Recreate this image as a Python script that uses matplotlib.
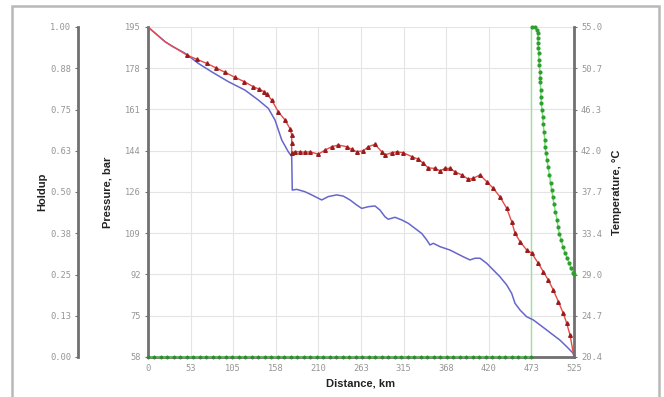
import matplotlib
matplotlib.use("Agg")
import matplotlib.pyplot as plt
from matplotlib.patches import Rectangle

# ---- pressure profile, case 1 (blue line) ----
blue_km = [0, 21.0, 29.2, 45.6, 62.0, 78.5, 99.0, 119.5, 135.9, 148.3, 156.5, 164.8,
           172.9, 177.1, 177.8, 183.3, 193.5, 201.7, 209.9, 214.1, 222.2, 232.6, 240.7,
           248.9, 257.2, 263.4, 271.5, 279.7, 285.9, 292.1, 296.1, 304.4, 312.7, 320.8,
           329.0, 337.3, 343.5, 347.5, 351.6, 359.9, 372.2, 380.4, 388.6, 396.8, 403.0,
           409.2, 417.4, 425.6, 433.8, 442.1, 448.2, 452.3, 458.5, 466.7, 474.8, 483.1,
           491.4, 499.5, 507.7, 516.0, 524.1, 525.0]
blue_bar = [195.0, 188.9, 187.1, 184.1, 179.9, 176.4, 172.3, 168.8, 164.7, 161.2, 156.4,
            148.1, 143.2, 141.2, 127.3, 127.6, 126.6, 125.3, 123.9, 123.2, 124.6, 125.3,
            124.8, 123.2, 121.1, 119.7, 120.4, 120.7, 119.0, 116.2, 115.2, 116.0, 114.9,
            113.5, 111.4, 109.3, 106.6, 104.5, 105.2, 103.8, 102.4, 101.0, 99.6, 98.3,
            99.0, 99.0, 96.9, 94.1, 91.3, 87.9, 84.4, 80.3, 77.5, 74.7, 73.4, 71.3, 69.2,
            67.1, 65.0, 62.3, 59.5, 58.0]

# ---- pressure profile, case 2 (red line with triangles) ----
red_km = [0, 21.0, 47.7, 60.0, 72.3, 84.0, 94.9, 107.2, 118.7, 129.8, 137.0, 143.3,
          146.3, 152.4, 160.6, 168.8, 175.0, 177.1, 177.1, 177.1, 181.2, 187.3, 193.5,
          199.6, 209.9, 218.1, 226.4, 234.5, 244.9, 251.0, 257.2, 265.3, 271.5, 279.7,
          288.0, 292.1, 300.3, 306.5, 314.6, 325.0, 333.1, 339.3, 345.4, 353.7, 359.9,
          366.0, 372.2, 378.3, 386.6, 394.7, 400.9, 409.2, 417.4, 425.6, 433.8, 442.1,
          448.2, 452.3, 458.5, 466.7, 472.9, 481.0, 487.2, 493.3, 499.5, 505.7, 511.8,
          516.0, 520.1, 525.0]
red_bar = [195.0, 188.9, 183.4, 181.6, 179.9, 178.0, 176.2, 174.1, 172.3, 170.2, 169.2,
           168.1, 167.2, 164.7, 159.8, 156.4, 152.8, 150.2, 146.7, 142.8, 143.2, 143.2,
           143.0, 143.2, 142.2, 143.9, 145.3, 146.0, 145.3, 144.2, 143.2, 143.6, 145.3,
           146.3, 143.2, 141.9, 142.8, 143.2, 142.8, 141.2, 140.1, 138.4, 136.5, 136.3,
           135.3, 136.3, 136.3, 134.9, 133.6, 131.8, 132.2, 133.6, 130.8, 128.0, 124.5,
           119.7, 114.2, 109.4, 105.9, 102.4, 101.1, 96.9, 93.4, 90.0, 85.8, 81.0, 76.1,
           72.0, 67.1, 58.0]

# ---- temperature (green, right axis) ----
temp_km = [473.2, 476.9, 479.4, 480.3, 480.6, 480.6, 481.2, 481.5, 481.9, 482.2, 483.1,
           483.1, 483.5, 484.0, 484.3, 484.7, 485.6, 486.4, 487.2, 488.0, 488.9, 489.3,
           490.5, 491.7, 493.0, 494.8, 496.1, 497.5, 498.8, 500.3, 502.2, 504.0, 505.3,
           507.1, 509.0, 511.4, 513.9, 516.4, 518.8, 521.3, 523.8, 525.0]
temp_c = [55.0, 55.0, 54.7, 54.4, 53.8, 53.3, 52.8, 52.3, 51.5, 51.0, 50.3, 49.7, 49.2,
          48.4, 47.7, 47.0, 46.3, 45.6, 44.8, 44.0, 43.2, 42.4, 41.8, 41.1, 40.3, 39.5,
          38.6, 37.9, 37.2, 36.4, 35.6, 34.8, 34.0, 33.3, 32.7, 31.9, 31.3, 30.8, 30.3,
          29.7, 29.2, 29.1]

# ---- liquid holdup (green, far-left axis) ----
holdup_km = [0, 8, 16, 24, 32, 40, 48, 56, 64, 72, 80, 88, 96, 104, 112, 120, 128, 136,
             144, 152, 160, 168, 176, 184, 192, 200, 208, 216, 224, 232, 240, 248, 256,
             264, 272, 280, 288, 296, 304, 312, 320, 328, 336, 344, 352, 360, 368, 376,
             384, 392, 400, 408, 416, 424, 432, 440, 448, 456, 464, 472.5]
holdup = [0.0, 0.0, 0.0, 0.0, 0.0, 0.0, 0.0, 0.0, 0.0, 0.0, 0.0, 0.0, 0.0, 0.0, 0.0,
          0.0, 0.0, 0.0, 0.0, 0.0, 0.0, 0.0, 0.0, 0.0, 0.0, 0.0, 0.0, 0.0, 0.0, 0.0,
          0.0, 0.0, 0.0, 0.0, 0.0, 0.0, 0.0, 0.0, 0.0, 0.0, 0.0, 0.0, 0.0, 0.0, 0.0,
          0.0, 0.0, 0.0, 0.0, 0.0, 0.0, 0.0, 0.0, 0.0, 0.0, 0.0, 0.0, 0.0, 0.0, 0.0]

# ---- axes ticks ----
x_ticks = [0, 52.5, 105, 157.5, 210, 262.5, 315, 367.5, 420, 472.5, 525]
x_labels = ["0", "53", "105", "158", "210", "263", "315", "368", "420", "473", "525"]
p_ticks = [58, 75.125, 92.25, 109.375, 126.5, 143.625, 160.75, 177.875, 195]
p_labels = ["58", "75", "92", "109", "126", "144", "161", "178", "195"]
t_ticks = [20.4, 24.725, 29.05, 33.375, 37.7, 42.025, 46.35, 50.675, 55.0]
t_labels = ["20.4", "24.7", "29.0", "33.4", "37.7", "42.0", "46.3", "50.7", "55.0"]
h_ticks = [0, 0.125, 0.25, 0.375, 0.5, 0.625, 0.75, 0.875, 1.0]
h_labels = ["0.00", "0.13", "0.25", "0.38", "0.50", "0.63", "0.75", "0.88", "1.00"]
marker_km = 472.5

W, H = 664, 397
fig = plt.figure(figsize=(W / 100, H / 100), dpi=100)
fig.patch.set_facecolor("white")

# outer frame
fig.patches.append(Rectangle((12 / W, -0.02), (659 - 12) / W, (H - 6) / H + 0.02,
                             transform=fig.transFigure, fill=False,
                             edgecolor="#b8b8b8", linewidth=1.8, zorder=0))

left, right, top, bottom = 148 / W, 574 / W, 1 - 27 / H, 1 - 357 / H
ax = fig.add_axes([left, bottom, right - left, top - bottom])
ax_t = ax.twinx()
ax_h = ax.twinx()

tick_font = dict(family="DejaVu Sans Mono", size=6.3)
tick_color = "#959595"
spine_color = "#707070"
label_font = dict(family="Liberation Sans", size=8, weight="bold", color="#222222")

# pressure axis
ax.set_xlim(0, 525)
ax.set_ylim(58, 195)
ax.set_xticks(x_ticks)
ax.set_xticklabels(x_labels, color=tick_color, **tick_font)
ax.set_yticks(p_ticks)
ax.set_yticklabels(p_labels, color=tick_color, **tick_font)
ax.grid(True, color="#e4e4e4", linewidth=0.8)
ax.set_axisbelow(True)
ax.tick_params(axis="both", length=2, width=0.8, color=spine_color, pad=3)
ax.tick_params(axis="x", length=0, pad=5)
for side in ("top", "right"):
    ax.spines[side].set_visible(False)
ax.spines["left"].set_color(spine_color)
ax.spines["left"].set_linewidth(2.0)
ax.spines["bottom"].set_color(spine_color)
ax.spines["bottom"].set_linewidth(2.0)

ax.axvline(marker_km, color="#9be39b", linewidth=1.0, zorder=1)
ax.plot(blue_km, blue_bar, color="#6666cc", linewidth=1.1, zorder=3)
ax.plot(red_km, red_bar, color="#e84a4a", linewidth=1.0, zorder=4,
        marker="^", markersize=2.6, markerfacecolor="#9b1c1c",
        markeredgecolor="#9b1c1c", markevery=list(range(2, len(red_km) - 1)))

# temperature axis
ax_t.set_ylim(20.4, 55.0)
ax_t.set_yticks(t_ticks)
ax_t.set_yticklabels(t_labels, color=tick_color, **tick_font)
ax_t.tick_params(axis="y", length=2, width=0.8, color=spine_color, pad=3)
for side in ("top", "left", "bottom"):
    ax_t.spines[side].set_visible(False)
ax_t.spines["right"].set_color(spine_color)
ax_t.spines["right"].set_linewidth(2.0)
ax_t.plot(temp_km, temp_c, color="#7be07b", linewidth=1.0,
          marker="o", markersize=2.0, markerfacecolor="#2e9e2e",
          markeredgecolor="#2e9e2e", clip_on=False, zorder=5)

# holdup axis, offset to the left
ax_h.set_ylim(0, 1)
ax_h.yaxis.set_ticks_position("left")
ax_h.yaxis.set_label_position("left")
ax_h.spines["left"].set_position(("outward", 70 * 72 / 100))
ax_h.spines["left"].set_visible(True)
ax_h.spines["left"].set_color(spine_color)
ax_h.spines["left"].set_linewidth(2.0)
for side in ("top", "right", "bottom"):
    ax_h.spines[side].set_visible(False)
ax_h.set_yticks(h_ticks)
ax_h.set_yticklabels(h_labels, color=tick_color, **tick_font)
ax_h.tick_params(axis="y", length=2, width=0.8, color=spine_color, pad=3)
ax_h.plot(holdup_km, holdup, color="#5cc85c", linewidth=1.2,
          marker="D", markersize=1.5, markerfacecolor="#2e8b2e",
          markeredgecolor="#2e8b2e", clip_on=False, zorder=5)

# axis titles
fig.text(42 / W, 1 - 192 / H, "Holdup", rotation=90, ha="center", va="center", **label_font)
fig.text(107 / W, 1 - 192 / H, "Pressure, bar", rotation=90, ha="center", va="center", **label_font)
fig.text(617 / W, 1 - 192 / H, "Temperature, \u00b0C", rotation=90, ha="center", va="center", **label_font)
fig.text(361 / W, 1 - 384 / H, "Distance, km", ha="center", va="center", **label_font)

fig.savefig("out.png", dpi=100, facecolor="white")
